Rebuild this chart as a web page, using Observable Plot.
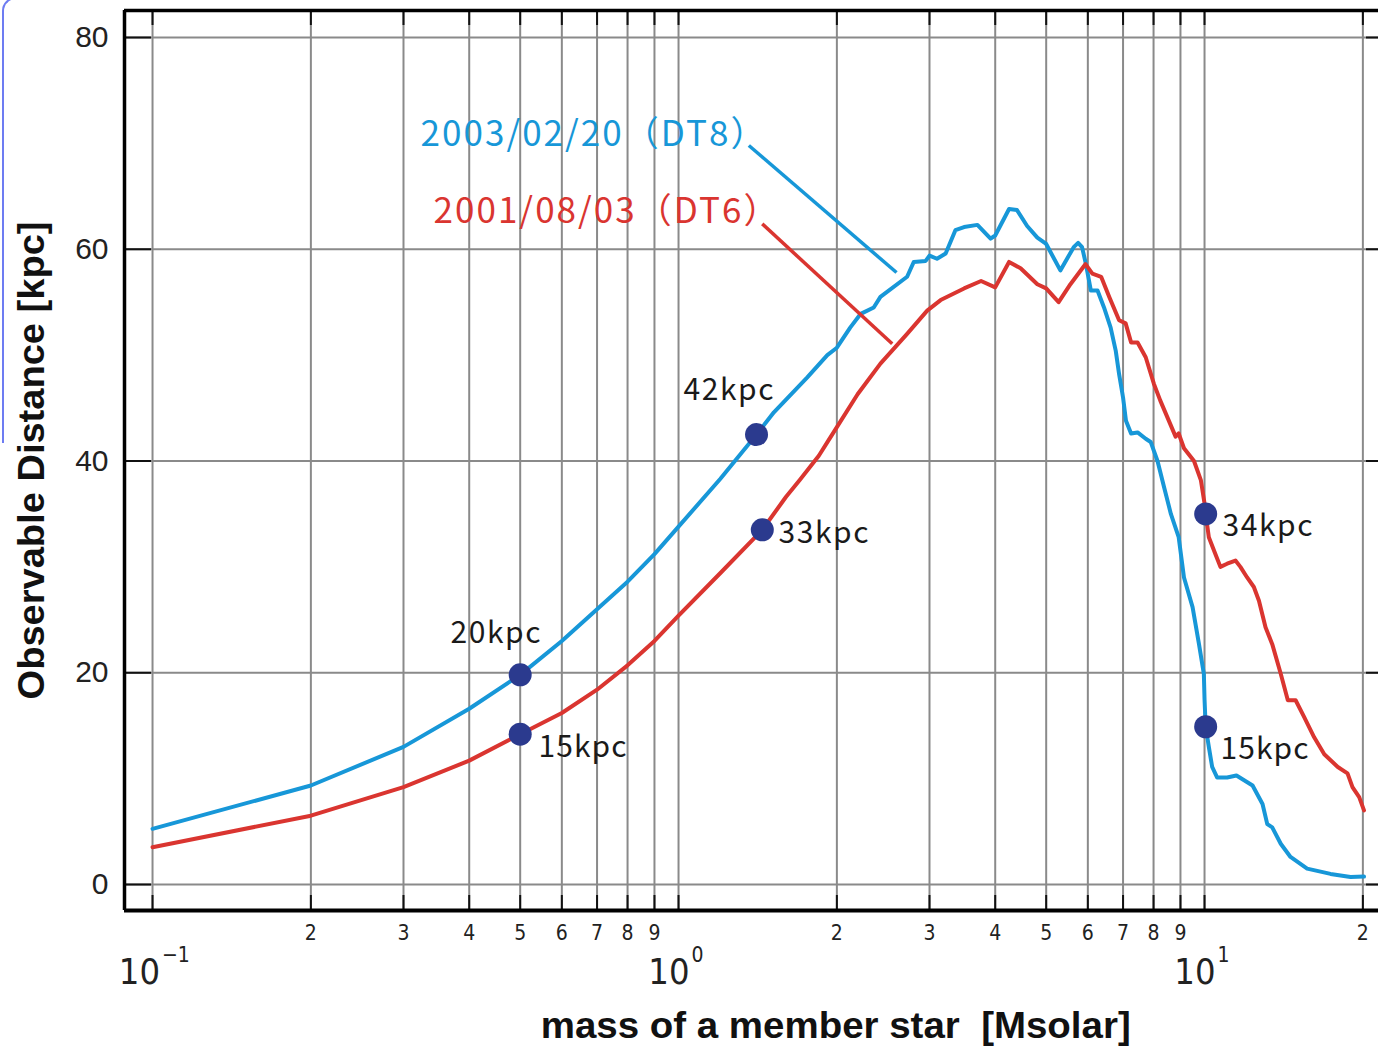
<!DOCTYPE html>
<html><head><meta charset="utf-8">
<script src="https://cdn.jsdelivr.net/npm/d3@7"></script>
<script src="https://cdn.jsdelivr.net/npm/@observablehq/plot@0.6"></script>
<style>
body{margin:0;background:#fff;}
#wrap{position:relative;width:1378px;height:1049px;overflow:hidden;background:#fff;}
#deco{position:absolute;left:2px;top:-3px;width:16px;height:444px;border-left:2px solid #6d7cf2;border-top:2px solid #6d7cf2;border-top-left-radius:14px;}
</style></head><body><div id="wrap"></div>
<script>
// ---- data (mass of a member star [Msolar], observable distance [kpc]) ----
const blueMass = [0.1,0.2,0.3,0.4,0.5,0.6,0.7,0.8,0.9,1.0,1.2,1.407,1.518,1.757,1.918,2.0,2.12,2.22,2.35,2.42,2.72,2.80,2.95,3.0,3.1,3.22,3.36,3.49,3.70,3.92,4.0,4.25,4.40,4.60,4.81,5.0,5.32,5.64,5.75,5.85,5.95,6.08,6.26,6.44,6.63,6.78,6.88,7.0,7.09,7.25,7.46,7.73,7.90,8.14,8.38,8.63,8.93,9.14,9.49,9.76,9.97,10.0,10.05,10.19,10.34,10.57,11.04,11.5,12.34,12.89,13.16,13.45,13.96,14.57,15.67,17.36,18.95,20.1];
const blueDist = [5.26,9.35,13.0,16.6,19.8,23.0,26.0,28.6,31.2,33.8,38.3,42.5,44.6,47.9,50.0,50.7,52.6,53.9,54.5,55.5,57.4,58.8,58.9,59.4,59.1,59.6,61.8,62.1,62.3,61.0,61.3,63.8,63.7,62.2,61.1,60.5,58.0,60.2,60.6,60.2,58.6,56.1,56.1,54.5,52.6,50.4,48.2,46.0,43.8,42.6,42.7,42.1,41.8,40.0,37.5,35.0,32.8,29.0,26.2,22.7,19.9,17.5,14.9,13.0,11.1,10.1,10.1,10.3,9.35,7.6,5.7,5.4,3.85,2.6,1.5,1.0,0.7,0.75];
const redMass = [0.1,0.2,0.3,0.4,0.5,0.6,0.7,0.8,0.9,1.0,1.2,1.443,1.6,1.7,1.848,1.92,2.0,2.19,2.42,2.72,2.97,3.15,3.49,3.76,4.0,4.25,4.47,4.81,5.0,5.28,5.56,5.94,6.12,6.36,6.59,6.88,7.08,7.25,7.46,7.73,8.01,8.24,8.81,8.93,9.14,9.55,9.84,10.0,10.05,10.19,10.49,10.72,11.04,11.45,11.70,12.05,12.41,12.69,13.06,13.45,13.96,14.4,14.9,15.47,16.16,16.89,17.92,18.7,19.11,19.68,20.1];
const redDist = [3.52,6.5,9.2,11.7,14.2,16.2,18.4,20.7,23.0,25.4,29.4,33.5,36.6,38.2,40.5,41.8,43.2,46.3,49.2,52.0,54.2,55.2,56.3,57.0,56.4,58.8,58.2,56.7,56.3,55.0,56.7,58.6,57.7,57.4,55.5,53.3,53.0,51.2,51.2,49.8,47.3,45.7,42.3,42.6,41.2,40.0,38.2,36.0,35.0,32.8,31.2,30.0,30.3,30.6,30.0,29.0,28.1,26.8,24.3,22.7,19.9,17.4,17.4,15.8,13.9,12.3,11.1,10.5,9.2,8.25,7.0];

const seriesNames = ["2003/02/20（DT8）", "2001/08/03（DT6）"];
const seriesLabelMass = [0.3232, 0.3421];
const seriesLabelDist = [70.84, 63.58];
const calloutMass1 = [1.3605, 1.4426], calloutDist1 = [69.80, 62.40];
const calloutMass2 = [2.5967, 2.5483], calloutDist2 = [57.80, 51.07];

const markerMass = [0.5, 1.407, 10.05, 0.5, 1.443, 10.05];
const markerDist = [19.8, 42.5, 14.9, 14.2, 33.5, 35.0];
const markerText = ["20kpc", "42kpc", "15kpc", "15kpc", "33kpc", "34kpc"];
const markerTextMass = [0.36857, 1.0221, 10.726, 0.54188, 1.5493, 10.82];
const markerTextDist = [23.71, 46.66, 12.75, 12.94, 33.15, 33.81];

const gridMass = [0.1,0.2,0.3,0.4,0.5,0.6,0.7,0.8,0.9,1,2,3,4,5,6,7,8,9,10,20];
const minorLabelMass = [0.2,0.3,0.4,0.5,0.6,0.7,0.8,0.9,2,3,4,5,6,7,8,9,20];
const minorLabelText = ["2","3","4","5","6","7","8","9","2","3","4","5","6","7","8","9","2"];
const majorMass = [0.1, 1, 10];
const majorExp = ["−1", "0", "1"];
const distTicks = [0, 20, 40, 60, 80];

const xTitle = "mass of a member star\u00a0 [Msolar]";
const yTitle = "Observable Distance [kpc]";

// ---- scales ----
const xmin = 0.088452, xmax = 21.416, ymin = -2.4557, ymax = 82.550;
const W = 1378, H = 1049, mL = 124, mT = 10, mB = 139;
const pxPerDecade = (W - mL) / Math.log10(xmax / xmin);
const pxPerY = (H - mT - mB) / (ymax - ymin);

const blue = "#1797d8", red = "#da3530", navy = "#2b3a8e", gridC = "#8a8a8a";

const blueData = blueMass.map((m, i) => ({m, d: blueDist[i]}));
const redData = redMass.map((m, i) => ({m, d: redDist[i]}));
const markers = markerMass.map((m, i) => ({m, d: markerDist[i]}));
const markerLabels = markerText.map((t, i) => ({t, m: markerTextMass[i], d: markerTextDist[i]}));
const callouts = [0, 1].map(i => ({x1: calloutMass1[i], y1: calloutDist1[i], x2: calloutMass2[i], y2: calloutDist2[i], c: i ? red : blue}));
const seriesLabels = seriesNames.map((t, i) => ({t, m: seriesLabelMass[i], d: seriesLabelDist[i], c: i ? red : blue}));
const minorLabels = minorLabelMass.map((m, i) => ({m, t: minorLabelText[i]}));
const majors = majorMass.map((m, i) => ({m, e: majorExp[i]}));
const majorsWide = majors.filter(d => d.e.length > 1);
const majorsNarrow = majors.filter(d => d.e.length === 1);

const tickBottomLen = 15 / pxPerY, tickLeftLen = 27 / pxPerDecade, tickRightLen = 12 / pxPerDecade;
const narrow = "'Liberation Sans Narrow', 'DejaVu Sans Condensed', 'Liberation Sans', sans-serif";
const cjk = "'Noto Sans CJK JP', 'Noto Sans', sans-serif";

const majorTenMark = (data, w) => Plot.text(data, {x: "m", y: ymin, text: () => "10", textAnchor: "end", dx: (32 - w) / 2, dy: 62, fontSize: 36, fill: "#222", fontFamily: narrow});
const majorSupMark = (data, w) => Plot.text(data, {x: "m", y: ymin, text: "e", textAnchor: "start", dx: (32 - w) / 2 + 2, dy: 45, fontSize: 21, fill: "#222", fontFamily: narrow});

const chart = Plot.plot({
  width: W, height: H,
  marginLeft: mL, marginRight: 0, marginTop: mT, marginBottom: mB,
  x: {type: "log", domain: [xmin, xmax], axis: null},
  y: {domain: [ymin, ymax], axis: null},
  style: {fontFamily: "'Liberation Sans', Arial, sans-serif", background: "white", overflow: "visible"},
  marks: [
    Plot.ruleX(gridMass, {x: d => d, stroke: gridC, strokeWidth: 2}),
    Plot.ruleY(distTicks, {y: d => d, stroke: gridC, strokeWidth: 2}),
    // inward ticks
    Plot.ruleX(gridMass, {x: d => d, y1: ymin, y2: ymin + tickBottomLen, stroke: "#111", strokeWidth: 2}),
    Plot.ruleX(gridMass, {x: d => d, y1: ymax - tickBottomLen, y2: ymax, stroke: "#111", strokeWidth: 2}),
    Plot.ruleY(distTicks, {y: d => d, x1: xmin, x2: xmin * 10 ** tickLeftLen, stroke: "#111", strokeWidth: 2}),
    Plot.ruleY(distTicks, {y: d => d, x1: xmax / 10 ** tickRightLen, x2: xmax, stroke: "#111", strokeWidth: 2}),
    // frame
    Plot.ruleX([xmin], {x: d => d, stroke: "#000", strokeWidth: 3.5}),
    Plot.ruleY([ymax], {y: d => d, stroke: "#000", strokeWidth: 3.5}),
    Plot.ruleY([ymin], {y: d => d, stroke: "#000", strokeWidth: 4}),
    // curves
    Plot.line(blueData, {x: "m", y: "d", stroke: blue, strokeWidth: 4, strokeLinejoin: "round"}),
    Plot.line(redData, {x: "m", y: "d", stroke: red, strokeWidth: 4, strokeLinejoin: "round"}),
    Plot.link(callouts, {x1: "x1", y1: "y1", x2: "x2", y2: "y2", stroke: "c", strokeWidth: 3.5}),
    Plot.dot(markers, {x: "m", y: "d", r: 11.5, fill: navy}),
    Plot.text(markerLabels, {x: "m", y: "d", text: "t", textAnchor: "start", fontSize: 30, fill: "#1a1a1a", fontFamily: cjk}),
    Plot.text(seriesLabels, {x: "m", y: "d", text: "t", textAnchor: "start", fontSize: 35, fill: "c", fontFamily: cjk}),
    // y tick labels
    Plot.text(distTicks, {x: xmin, y: d => d, text: d => String(d), textAnchor: "end", dx: -16, fontSize: 30, fill: "#222"}),
    // x tick labels
    Plot.text(minorLabels, {x: "m", y: ymin, text: "t", dy: 23, fontSize: 21, fill: "#222", fontFamily: narrow}),
    majorTenMark(majorsWide, 17), majorSupMark(majorsWide, 17),
    majorTenMark(majorsNarrow, 10), majorSupMark(majorsNarrow, 10),
    // axis titles
    Plot.text([xTitle], {x: 1.99, y: ymin, text: d => d, dy: 116, fontSize: 36, fontWeight: "bold", fill: "#111"}),
    Plot.text([yTitle], {x: xmin, y: 40.05, text: d => d, dx: -92, rotate: -90, fontSize: 36, fontWeight: "bold", fill: "#111"})
  ]
});

// exact text widths as in the picture
const lengths = new Map([
  [seriesNames[0], 345], [seriesNames[1], 345],
  [xTitle, 590], [yTitle, 478],
  ["42kpc", 90], ["33kpc", 90], ["20kpc", 90], ["15kpc", 88], ["34kpc", 90]
]);
d3.select(chart).selectAll("text").each(function() {
  const L = lengths.get(this.textContent);
  if (L) { this.setAttribute("textLength", L); this.setAttribute("lengthAdjust", this.textContent === xTitle || this.textContent === yTitle ? "spacingAndGlyphs" : "spacing"); }
});

const wrap = document.getElementById("wrap");
wrap.appendChild(chart);
const deco = document.createElement("div");
deco.id = "deco";
wrap.appendChild(deco);
</script>
</body></html>
